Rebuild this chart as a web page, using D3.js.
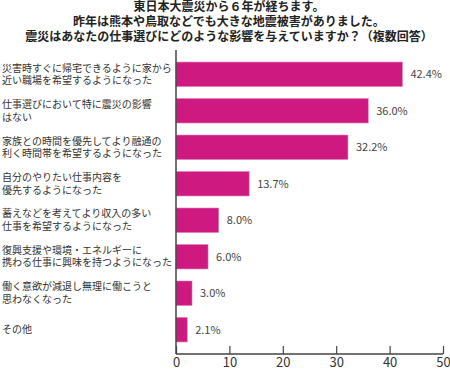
<!DOCTYPE html>
<html><head><meta charset="utf-8">
<script src="https://cdn.jsdelivr.net/npm/d3@7"></script>
<style>body{margin:0;background:#fff}svg{display:block}</style>
</head><body>
<script>
const titleLines = ["東日本大震災から６年が経ちます。","昨年は熊本や鳥取などでも大きな地震被害がありました。","震災はあなたの仕事選びにどのような影響を与えていますか？（複数回答）"];
const categories = [
  ["災害時すぐに帰宅できるように家から","近い職場を希望するようになった"],
  ["仕事選びにおいて特に震災の影響","はない"],
  ["家族との時間を優先してより融通の","利く時間帯を希望するようになった"],
  ["自分のやりたい仕事内容を","優先するようになった"],
  ["蓄えなどを考えてより収入の多い","仕事を希望するようになった"],
  ["復興支援や環境・エネルギーに","携わる仕事に興味を持つようになった"],
  ["働く意欲が減退し無理に働こうと","思わなくなった"],
  ["その他"]
];
const values = [42.4, 36.0, 32.2, 13.7, 8.0, 6.0, 3.0, 2.1];
const ticks = [0, 10, 20, 30, 40, 50];

const W = 450, H = 369;
const svg = d3.select("body").append("svg").attr("width", W).attr("height", H);
const font = "'Noto Sans CJK JP', 'Noto Sans', sans-serif";

svg.append("g").selectAll("text").data(titleLines).join("text")
  .attr("x", 229).attr("y", (d, i) => 7 + i * 15).attr("dy", "0.35em")
  .attr("text-anchor", "middle").attr("font-family", font).attr("font-weight", "bold")
  .attr("font-size", 12).attr("fill", "#222").text(d => d);

const x = d3.scaleLinear().domain([0, 50]).range([176, 443]);
const y = d3.scaleBand().domain(d3.range(values.length)).range([50, 354]).paddingInner(0.33).paddingOuter(0.33);

svg.append("g").selectAll("rect").data(values).join("rect")
  .attr("x", x(0)).attr("y", (d, i) => y(i)).attr("width", d => x(d) - x(0))
  .attr("height", y.bandwidth()).attr("fill", "#cd1980").attr("stroke", "#e37ab5").attr("stroke-width", 0.6);

svg.append("g").selectAll("text").data(values).join("text")
  .attr("x", d => x(d) + 8).attr("y", (d, i) => y(i) + y.bandwidth() / 2).attr("dy", "0.35em")
  .attr("font-family", font).attr("font-size", 11).attr("fill", "#444")
  .text(d => d.toFixed(1) + "%");

const cg = svg.append("g").selectAll("text").data(categories).join("text")
  .attr("font-family", font).attr("font-size", 10).attr("fill", "#333");
cg.each(function(lines, i) {
  const cy = y(i) + y.bandwidth() / 2;
  const n = lines.length;
  d3.select(this).selectAll("tspan").data(lines).join("tspan")
    .attr("x", 2).attr("y", (d, j) => cy + (j - (n - 1) / 2) * 12.5).attr("dy", "0.35em").text(d => d);
});

// axes
const axisG = svg.append("g").attr("transform", "translate(0,354)")
  .call(d3.axisBottom(x).tickValues(ticks).tickSize(-8).tickPadding(4).tickFormat(d3.format("d")));
axisG.select(".domain").attr("stroke", "#444").attr("stroke-width", 1.5).attr("d", `M${x(0)},0H${x(50)}`);
axisG.selectAll(".tick line").attr("stroke", "#444").attr("stroke-width", 1.2);
axisG.selectAll(".tick text").attr("font-family", font).attr("font-size", 13).attr("fill", "#333");

svg.append("line").attr("x1", x(0)).attr("x2", x(0)).attr("y1", 50).attr("y2", 354)
  .attr("stroke", "#444").attr("stroke-width", 1.5);
</script>
</body></html>
